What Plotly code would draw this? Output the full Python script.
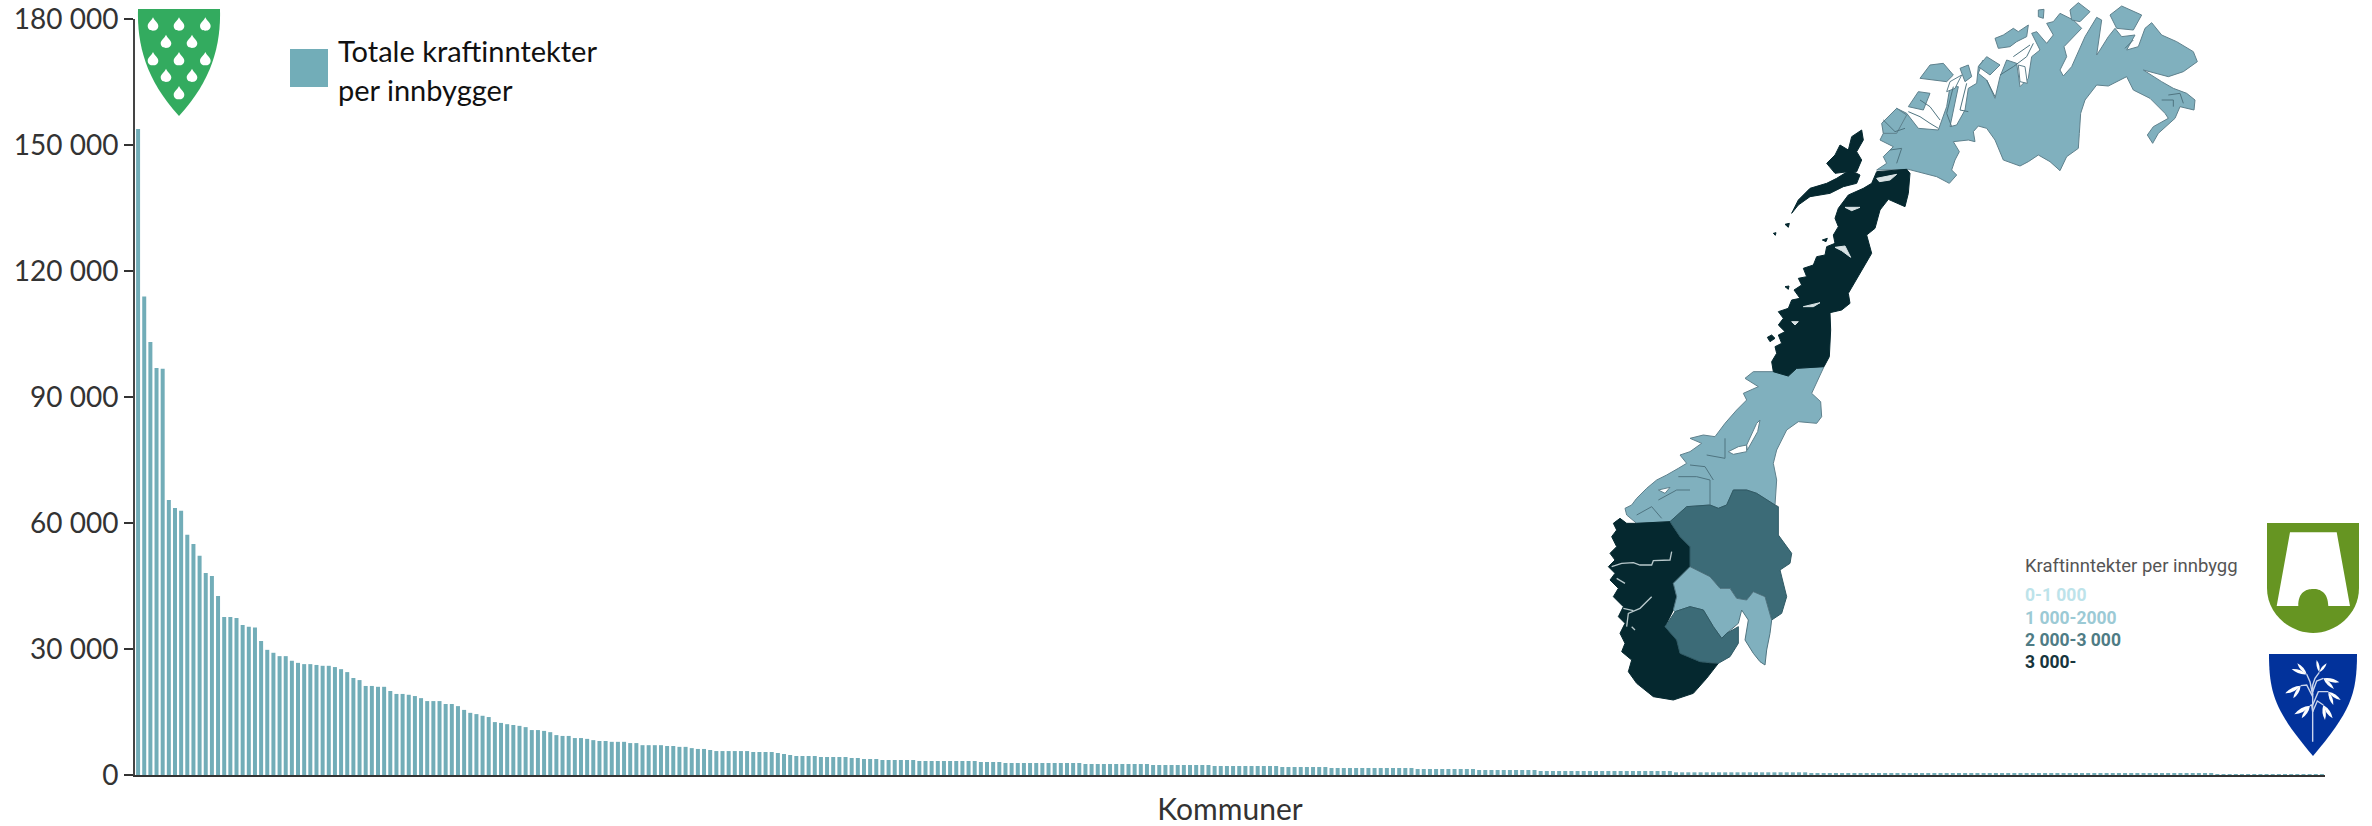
import plotly.graph_objects as go

W, H = 2372, 826
BAR = "#72ADB8"
LIGHT, MID, DARK = "#80B0BE", "#3C6B77", "#05282F"

tick_values = [0, 30000, 60000, 90000, 120000, 150000, 180000]
tick_labels = ["0", "30 000", "60 000", "90 000", "120 000", "150 000", "180 000"]
legend_lines = ["Totale kraftinntekter", "per innbygger"]
axis_title = "Kommuner"
map_legend_title = "Kraftinntekter per innbygg"
map_legend = [("0-1 000", "#BDE3EA"), ("1 000-2000", "#9CCAD5"),
              ("2 000-3 000", "#4F7C85"), ("3 000-", "#17353C")]

values_head = [153800, 113900, 103100, 96900, 96700, 65500, 63600, 62900, 57200, 55000,
               52200, 48100, 47400, 42600, 37600, 37600, 37400, 35700, 35300, 35100,
               31900, 29800, 29100, 28300, 28300, 27200, 26700, 26400, 26400, 26200,
               26000, 26000, 25700, 25200, 24500, 23100, 22600, 21200, 21200, 21000,
               21000, 20000, 19300, 19300, 19100, 18800, 18300, 17600, 17600, 17600,
               16900, 16900, 16400, 15500, 14800, 14500, 14100, 13800, 12600, 12400,
               12100, 11900, 11700, 11400, 10700, 10700, 10500, 10200, 9500, 9300,
               9300, 8800, 8800, 8600, 8300, 8100, 8100, 7900, 7900, 7900,
               7600, 7600, 7100, 7100, 7100, 7100, 6900, 6900, 6700, 6700,
               6400, 6200]
values_mid = [6200, 5950, 5700, 5700, 5700, 5700, 5700, 5700, 5480, 5480, 5480, 5480,
              5240, 5000, 4760, 4520, 4520, 4520, 4520, 4290, 4290, 4290, 4290, 4290,
              4050, 4050, 3810, 3810, 3810, 3570, 3570, 3570, 3570, 3570, 3570,
              3330, 3330, 3330, 3330, 3330, 3330, 3330, 3330, 3330, 3330,
              3100, 3100, 3100, 3100,
              2860, 2860, 2860, 2860, 2860, 2860, 2860, 2860, 2860, 2860, 2860, 2860, 2860,
              2620, 2620, 2620, 2620, 2620, 2620, 2620, 2620, 2620, 2620, 2620,
              2380, 2380, 2380, 2380, 2380, 2380, 2380, 2380, 2380, 2380,
              2140, 2140, 2140, 2140, 2140, 2140, 2140, 2140, 2140, 2140, 2140,
              1900, 1900, 1900, 1900, 1900, 1900, 1900, 1900,
              1670, 1670, 1670, 1670, 1670, 1670, 1670, 1670, 1670, 1670, 1670, 1670, 1670, 1670,
              1430, 1430, 1430, 1430, 1430, 1430, 1430, 1430, 1430, 1430,
              1190, 1190, 1190, 1190, 1190, 1190, 1190, 1190, 1190, 1190]
values_low = [950, 950, 950, 950, 950, 950, 950, 950, 950, 950, 950,
              950, 950, 950, 950, 950, 950, 950, 950, 950, 950, 950,
              640, 640, 640, 640, 640, 640, 640, 640, 640, 640, 640,
              640, 640, 640, 640, 640, 640, 640, 640, 640, 640, 640]
values_tail = [400, 400, 400, 400, 400, 400, 400, 400, 400, 400, 400, 400, 400, 400, 400, 400, 400, 400,
               400, 400, 400, 400, 400, 400, 400, 400, 400, 400, 400, 400, 400, 400, 400,
               400, 400, 400, 400, 400, 400, 400, 400, 400, 400, 400, 400, 400, 400, 400,
               400, 400, 400, 400, 400, 400, 400, 400, 400, 400, 400, 400, 400, 400, 400, 400, 400, 400,
               150, 150, 150, 150, 150, 150, 150, 150, 150, 150, 150, 150, 150, 150, 150, 150, 150, 150]
values = values_head + values_mid + values_low + values_tail
kommuner = list(range(1, len(values) + 1))


def crop(ox, oy, pts):
    return [(ox + x / 3, oy + y / 3) for x, y in pts]


north = crop(1840, 0, [
    (205, 508), (240, 518), (290, 530), (328, 550), (350, 525), (335, 510), (345, 480), (358, 455),
    (340, 425), (385, 420), (405, 425), (400, 395), (415, 378), (440, 385), (465, 420), (490, 480),
    (540, 498), (565, 485), (595, 465), (630, 485), (660, 512), (680, 470), (715, 445), (718, 400),
    (722, 340), (735, 300), (770, 255), (805, 258), (860, 230), (880, 270), (930, 295), (975, 340),
    (985, 355), (940, 380), (922, 405), (938, 430), (955, 400), (1005, 355), (1020, 320), (1062, 330),
    (1065, 300), (1040, 280), (1000, 265), (965, 245), (910, 210), (985, 230), (1030, 215), (1072, 185),
    (1060, 155), (1010, 125), (965, 105), (935, 68), (915, 85), (895, 140), (860, 150), (885, 105),
    (845, 110), (825, 85), (805, 110), (780, 150), (770, 165), (785, 60), (770, 52), (735, 110),
    (695, 200), (670, 228), (660, 210), (680, 170), (672, 140), (725, 85), (700, 60), (660, 40),
    (640, 65), (620, 70), (640, 105), (620, 130), (590, 95), (575, 100), (600, 150), (575, 170),
    (565, 235), (540, 260), (530, 190), (500, 180), (480, 230), (465, 295), (440, 240), (415, 220),
    (430, 180), (415, 200), (410, 250), (385, 265), (375, 330), (350, 375), (330, 380), (355, 260),
    (330, 260), (320, 320), (295, 390), (235, 385), (200, 340), (170, 325), (130, 365), (130, 400),
    (120, 420), (160, 440), (130, 470), (140, 490), (110, 510)])
north_islands = [crop(1840, 0, p) for p in [
    [(465, 115), (490, 105), (520, 85), (535, 95), (565, 75), (560, 110), (530, 125), (510, 140), (475, 145)],
    [(595, 30), (612, 28), (610, 55), (595, 50)],
    [(690, 30), (715, 8), (750, 35), (720, 65), (695, 60)],
    [(810, 45), (845, 18), (905, 45), (880, 90), (830, 85)],
    [(240, 235), (270, 195), (310, 190), (340, 225), (320, 245), (280, 240)],
    [(360, 205), (385, 195), (395, 230), (375, 245)],
    [(415, 200), (440, 170), (480, 195), (450, 225)],
    [(205, 320), (235, 275), (270, 280), (250, 330)],
    [(125, 370), (170, 325), (200, 345), (170, 400), (130, 400)],
]]
north_white = [crop(1840, 0, p) for p in [
    [(535, 195), (555, 200), (562, 250), (540, 245)],
    [(330, 245), (365, 225), (345, 265), (320, 275)],
]]
north_fjords = [crop(1840, 0, p) for p in [
    [(205, 335), (240, 350), (270, 370), (295, 385)],
    [(240, 300), (270, 320), (300, 360)],
    [(340, 260), (320, 340), (335, 380)],
    [(380, 250), (360, 330), (385, 335)],
    [(150, 450), (185, 445), (170, 490)],
    [(130, 360), (165, 395), (195, 385)],
    [(480, 225), (520, 200), (560, 170), (580, 130)],
    [(520, 170), (570, 135)],
    [(440, 240), (465, 290)],
    [(965, 300), (1000, 300), (1000, 320)],
    [(985, 285), (1020, 280), (1030, 310)],
    [(855, 145), (880, 120)],
]]

nordland = crop(1720, 130, [
    (560, 118), (570, 130), (565, 190), (555, 230), (505, 208), (480, 240), (465, 295), (440, 315),
    (455, 370), (420, 430), (385, 490), (390, 520), (365, 540), (330, 548), (332, 600), (328, 680),
    (312, 710), (230, 715), (205, 738), (160, 725), (155, 695), (170, 670), (165, 650), (185, 640),
    (175, 615), (195, 605), (175, 585), (190, 565), (175, 545), (205, 535), (215, 510), (240, 505),
    (222, 480), (245, 465), (235, 445), (260, 440), (250, 415), (280, 405), (290, 380), (315, 375),
    (320, 350), (345, 340), (340, 315), (355, 290), (345, 265), (355, 235), (385, 195), (430, 175),
    (455, 160), (470, 125)])
nordland_islands = [crop(1720, 130, p) for p in [
    [(215, 250), (235, 210), (270, 175), (320, 160), (350, 145), (390, 120), (420, 135), (410, 160),
     (370, 170), (330, 190), (270, 200), (235, 225)],
    [(320, 100), (345, 75), (360, 45), (385, 60), (395, 20), (425, 0), (430, 30), (410, 65), (425, 90),
     (410, 125), (385, 125), (345, 130)],
    [(142, 622), (155, 615), (165, 625), (150, 635)],
    [(195, 283), (208, 280), (205, 292)],
    [(307, 330), (322, 325), (318, 335)],
    [(195, 470), (207, 468), (205, 478)],
    [(160, 310), (168, 308), (166, 316)],
]]
nordland_white = [crop(1720, 130, p) for p in [
    [(470, 145), (530, 133), (510, 150), (478, 155)],
    [(375, 232), (420, 232), (395, 242)],
    [(345, 352), (375, 348), (392, 382), (365, 362)],
    [(250, 530), (300, 518), (280, 530)],
    [(215, 575), (235, 575), (225, 585)],
]]

trondelag = crop(1720, 130, [(230, 715), (312, 710), (275, 790), (302, 815)]) + crop(1590, 400, [
    (695, 50), (680, 70), (625, 65), (590, 90), (560, 150), (550, 190), (560, 240), (555, 315),
    (500, 280), (470, 270), (430, 270), (410, 315), (385, 325), (360, 315), (290, 320), (240, 365),
    (140, 370), (110, 345), (105, 325), (125, 315), (140, 295), (170, 265), (200, 240), (230, 225),
    (265, 205), (290, 190), (270, 165), (300, 155), (335, 130), (300, 115), (340, 105), (375, 110),
    (405, 70), (440, 30), (470, 0)]
) + crop(1720, 130, [(70, 790), (115, 770), (75, 745), (100, 725), (160, 725), (205, 738)])
trondelag_white = [crop(1590, 400, p) for p in [
    [(415, 155), (445, 140), (470, 135), (470, 155), (430, 163)],
    [(470, 135), (500, 70), (510, 60), (503, 95), (472, 150)],
    [(205, 270), (240, 262), (225, 280)],
]]
trondelag_fjords = [crop(1590, 400, p) for p in [
    [(140, 345), (185, 320), (215, 355)],
    [(205, 300), (260, 270), (300, 270)],
    [(265, 230), (320, 230), (360, 240), (360, 315)],
    [(300, 195), (345, 200), (370, 240)],
    [(350, 165), (405, 175), (405, 115)],
]]
innland = crop(1590, 400, [
    (240, 365), (290, 320), (360, 315), (385, 325), (410, 315), (430, 270), (470, 270), (500, 280),
    (555, 315), (565, 320), (565, 405), (605, 460), (600, 490), (570, 510), (590, 590), (575, 640),
    (545, 660), (525, 590), (490, 575), (470, 600), (440, 595), (420, 565), (390, 565), (360, 530),
    (300, 500), (300, 440), (270, 410)])
vest = crop(1590, 400, [
    (240, 365), (270, 410), (300, 440), (300, 500), (250, 550), (260, 590), (250, 630), (225, 680),
    (260, 720), (270, 760), (330, 785), (360, 790), (385, 790), (350, 835), (310, 880), (250, 900),
    (190, 890), (140, 850), (115, 815), (125, 780), (95, 755), (105, 730), (90, 700), (105, 670),
    (85, 650), (100, 620), (70, 590), (85, 565), (60, 540), (75, 520), (55, 500), (75, 480),
    (60, 460), (80, 440), (65, 410), (80, 390), (70, 370), (90, 355), (110, 370), (140, 370)])
vest_fjords = [crop(1590, 400, p) for p in [
    [(65, 500), (95, 490), (130, 488), (150, 495), (185, 495), (190, 482), (240, 480), (245, 455)],
    [(110, 680), (115, 640), (150, 625), (185, 590)],
    [(100, 625), (130, 632)],
    [(125, 680), (135, 690)],
    [(80, 535), (105, 550)],
]]
oslo = crop(1590, 400, [
    (300, 500), (360, 530), (390, 565), (420, 565), (440, 595), (470, 600), (490, 575), (525, 590),
    (545, 660), (540, 700), (530, 750), (525, 795), (510, 785), (490, 760), (465, 720), (475, 660),
    (455, 630), (445, 670), (410, 700), (395, 715), (370, 680), (340, 630), (300, 620), (255, 635),
    (250, 630), (260, 590), (250, 550)])
telemark = crop(1590, 400, [
    (225, 680), (255, 635), (300, 620), (340, 630), (370, 680), (395, 715), (410, 700), (445, 680),
    (445, 730), (420, 770), (385, 790), (330, 785), (270, 760), (260, 720)])

regions = [(north, LIGHT, "#5F818D")] + [(p, LIGHT, "#5F818D") for p in north_islands] + \
          [(p, "#FFFFFF", "#5F818D") for p in north_white] + \
          [(trondelag, LIGHT, "#5F818D")] + [(p, "#FFFFFF", "#5F818D") for p in trondelag_white] + \
          [(nordland, DARK, DARK)] + [(p, DARK, DARK) for p in nordland_islands] + \
          [(p, "#D8E2E4", "#D8E2E4") for p in nordland_white] + \
          [(vest, DARK, DARK), (innland, MID, "#2F5964"), (oslo, LIGHT, "#4F7480"), (telemark, MID, "#2F5964")]
line_sets = [(north_fjords, "#4F7480", 1), (trondelag_fjords, "#4F7480", 1), (vest_fjords, "#B9C9CC", 1.3)]

fig = go.Figure()
fig.add_trace(go.Bar(x=kommuner, y=values, marker=dict(color=BAR, line_width=0),
                     name="Totale kraftinntekter per innbygger", showlegend=False))

for pts, fill, stroke in regions:
    fig.add_trace(go.Scatter(x=[p[0] for p in pts] + [pts[0][0]], y=[p[1] for p in pts] + [pts[0][1]],
                             mode="lines", fill="toself", fillcolor=fill, line=dict(color=stroke, width=1),
                             xaxis="x2", yaxis="y2", hoverinfo="skip", showlegend=False))
for group, colour, width in line_sets:
    for pts in group:
        fig.add_trace(go.Scatter(x=[p[0] for p in pts], y=[p[1] for p in pts], mode="lines",
                                 line=dict(color=colour, width=width), xaxis="x2", yaxis="y2",
                                 hoverinfo="skip", showlegend=False))


def shape(path, color):
    return dict(type="path", path=path, fillcolor=color, line=dict(width=0), xref="x2", yref="y2", layer="above")


def drop(x, y):
    cx, cy = 130 + x / 3, y / 3
    return (f"M{cx},{cy-6.7} C{cx+1.5},{cy-3} {cx+5.3},{cy-1} {cx+5.3},{cy+2} "
            f"C{cx+5.3},{cy+5} {cx+3},{cy+6.7} {cx},{cy+6.7} C{cx-3},{cy+6.7} {cx-5.3},{cy+5} {cx-5.3},{cy+2} "
            f"C{cx-5.3},{cy-1} {cx-1.5},{cy-3} {cx},{cy-6.7} Z")


def leaf(base, tip):
    x0, y0 = 2260 + base[0] / 3, 515 + base[1] / 3
    x1, y1 = 2260 + tip[0] / 3, 515 + tip[1] / 3
    dx, dy = (x1 - x0), (y1 - y0)
    nx, ny = -dy * 0.22, dx * 0.22
    mx, my = (x0 + x1) / 2, (y0 + y1) / 2
    return f"M{x0},{y0} Q{mx+nx},{my+ny} {x1},{y1} Q{mx-nx},{my-ny} {x0},{y0} Z"


drops = [(69, 72), (147, 72), (226, 72), (108, 124), (186, 124), (69, 176), (147, 176), (226, 176),
         (108, 226), (186, 226), (147, 278)]
spikelets = [((178, 472), (170, 435)), ((178, 472), (200, 445)),
             ((140, 478), (95, 462)), ((140, 478), (112, 445)),
             ((190, 490), (238, 502)), ((190, 490), (222, 522)),
             ((122, 512), (76, 535)), ((122, 512), (100, 550)),
             ((205, 530), (242, 555)), ((205, 530), (220, 570)),
             ((150, 572), (103, 598)), ((150, 572), (125, 610)),
             ((190, 570), (218, 610)), ((190, 570), (195, 615))]
stems = [[(158, 680), (158, 510), (165, 490), (178, 472)],
         [(158, 540), (150, 500), (140, 478)],
         [(158, 530), (170, 498), (190, 490)],
         [(158, 545), (140, 510), (122, 512)],
         [(158, 570), (175, 530), (205, 530)],
         [(158, 590), (155, 570), (150, 572)],
         [(158, 590), (172, 558), (190, 570)]]

shapes = [
    dict(type="rect", x0=290, x1=328, y0=49, y1=87, xref="x2", yref="y2", fillcolor=BAR, line_width=0, layer="above"),
    shape("M138,9 L220,9 C221,45 212,80 179,116 C146,80 137,45 138,9 Z", "#33AB5F"),
    shape("M2267,523 L2359,523 L2359,588 C2359,615 2335,633 2313,633 C2291,633 2267,615 2267,588 Z", "#669522"),
    shape("M2290,532.3 L2336.7,532.3 L2350,606 L2328.3,606 C2328,592 2320,589 2313.3,589 "
          "C2306,589 2298.3,592 2298.3,606 L2276.7,606 Z", "#FFFFFF"),
    shape("M2269,654 L2357,654 C2357,695 2350,712 2313,756 C2276,712 2269,695 2269,654 Z", "#02329B"),
]
shapes += [shape(drop(*d), "#FFFFFF") for d in drops]
for s in stems:
    (a, b), rest = s[0], s[1:]
    path = f"M{2260+a/3},{515+b/3} " + " ".join(f"L{2260+x/3},{515+y/3}" for x, y in rest)
    shapes.append(dict(type="path", path=path, line=dict(color="#C9D4EC", width=1.4), xref="x2", yref="y2", layer="above"))
shapes += [shape(leaf(a, b), "#FFFFFF") for a, b in spikelets]

FONT = "Lato, Carlito, Calibri, sans-serif"
annotations = [
    dict(x=2023, y=566, xref="x2", yref="y2", text=map_legend_title, showarrow=False, xanchor="left",
         font=dict(family="Roboto, sans-serif", size=18.5, color="#555555")),
]
for line, yy in zip(legend_lines, [50, 89]):
    annotations.append(dict(x=336, y=yy, xref="x2", yref="y2", text=line, showarrow=False, xanchor="left",
                            font=dict(family=FONT, size=29, color="#111111")))
for (txt, col), yy in zip(map_legend, [595, 618, 640, 662]):
    annotations.append(dict(x=2023, y=yy, xref="x2", yref="y2", text=f"<b>{txt}</b>", showarrow=False, xanchor="left",
                            font=dict(family="Roboto, sans-serif", size=17.5, color=col)))

fig.update_layout(
    width=W, height=H, autosize=False, margin=dict(l=0, r=0, t=0, b=0),
    paper_bgcolor="white", plot_bgcolor="rgba(0,0,0,0)", bargap=0.35, showlegend=False,
    font=dict(family=FONT, color="#333333"),
    xaxis=dict(domain=[135 / W, 2325 / W], range=[0.5, len(values) + 0.5], showticklabels=False, ticks="",
               automargin=False, showgrid=False, zeroline=False, showline=True, linecolor="#333333", linewidth=2,
               title=dict(text=axis_title, standoff=26, font=dict(family=FONT, size=30, color="#333333"))),
    yaxis=dict(domain=[(H - 775) / H, (H - 19) / H], range=[0, 180000], tickvals=tick_values, ticktext=tick_labels,
               automargin=False, ticks="outside", ticklen=9, tickwidth=2, tickcolor="#333333", showgrid=False,
               zeroline=False, showline=True, linecolor="#444444", linewidth=2,
               tickfont=dict(family=FONT, size=28, color="#333333")),
    xaxis2=dict(domain=[0, 1], range=[0, W], anchor="y2", visible=False, fixedrange=True, automargin=False),
    yaxis2=dict(domain=[0, 1], range=[H, 0], anchor="x2", visible=False, fixedrange=True, automargin=False),
    shapes=shapes, annotations=annotations,
)
fig.write_html("out.html", post_script="document.body.style.margin='0';", config={"displayModeBar": False})
